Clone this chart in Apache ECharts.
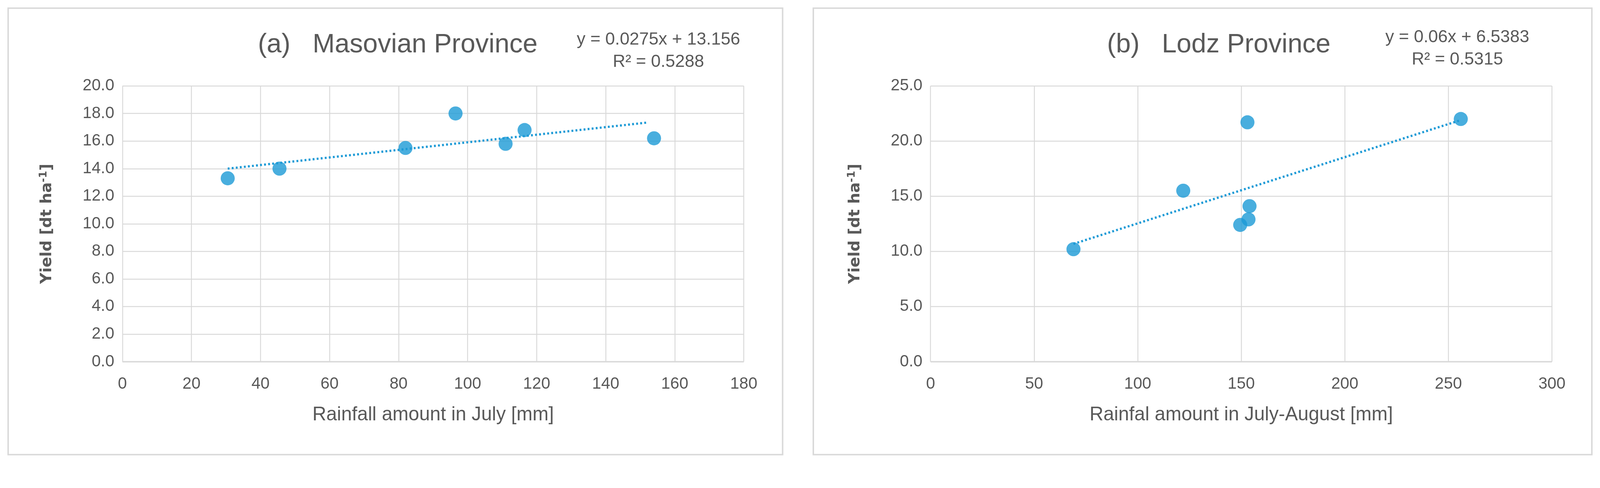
<!DOCTYPE html>
<html><head><meta charset="utf-8">
<script src="https://cdn.jsdelivr.net/npm/echarts@6/dist/echarts.min.js"></script>
<style>html,body{margin:0;padding:0;background:#fff;overflow:hidden}#c{width:100vw;height:100vh}</style>
</head><body><div id="c"></div>
<script>
const masovianPoints = [[30.5,13.3],[45.5,14.0],[82,15.5],[96.5,18.0],[111,15.8],[116.5,16.8],[154,16.2]];
const masovianTrend = [[30.5,14.0],[152,17.34]];
const lodzPoints = [[69,10.2],[122,15.5],[149.5,12.4],[153,21.7],[153.5,12.9],[154,14.1],[256,22.0]];
const lodzTrend = [[69,10.68],[256,21.9]];
const titles = ['(a)   Masovian Province','(b)   Lodz Province'];
const equations = ['y = 0.0275x + 13.156\nR² = 0.5288','y = 0.06x + 6.5383\nR² = 0.5315'];
const xNames = ['Rainfall amount in July [mm]','Rainfal amount in July-August [mm]'];

const chart = echarts.init(document.getElementById('c'));
const s = Math.min(chart.getWidth()/4326, chart.getHeight()/1248);
const p = v => v*s;
const txt = '#595959', font = "'Liberation Sans Narrow','Liberation Sans',sans-serif";
const dot = '#1c9ad6';
const grids = [{left:p(331),top:p(232),width:p(1680),height:p(745)},{left:p(2516),top:p(232),width:p(1680),height:p(745)}];
function xAxis(i,max,interval){return {gridIndex:i,type:'value',min:0,max:max,interval:interval,
  name:xNames[i],nameLocation:'middle',nameGap:p(118),nameTextStyle:{color:txt,fontSize:p(52),fontFamily:font},
  axisLine:{show:false},axisTick:{show:false},axisLabel:{color:txt,fontSize:p(44),fontFamily:font,margin:p(38)},
  splitLine:{lineStyle:{color:'#d9d9d9',width:p(2.5)}}};}
function yAxis(i,max,interval){return {gridIndex:i,type:'value',min:0,max:max,interval:interval,
  name:'{b|Yield [dt ha}{s|-1}{b|]}',nameLocation:'middle',nameGap:p(180),nameRotate:90,
  nameTextStyle:{rich:{b:{color:txt,fontSize:p(42),fontWeight:'bold',fontFamily:'DejaVu Sans'},s:{color:txt,fontSize:p(28),fontWeight:'bold',fontFamily:'DejaVu Sans',verticalAlign:'top',padding:[0,0,p(18),0]}}},
  axisLine:{show:false},axisTick:{show:false},
  axisLabel:{color:txt,fontSize:p(44),fontFamily:font,margin:p(22),formatter:v=>v.toFixed(1)},
  splitLine:{lineStyle:{color:'#d9d9d9',width:p(2.5)}}};}
chart.setOption({
  backgroundColor:'#fff',animation:false,
  graphic:[
    {type:'rect',shape:{x:p(22),y:p(22),width:p(2094),height:p(1206)},style:{fill:'none',stroke:'#d9d9d9',lineWidth:p(4)}},
    {type:'rect',shape:{x:p(2199),y:p(22),width:p(2105),height:p(1206)},style:{fill:'none',stroke:'#d9d9d9',lineWidth:p(4)}},
    {type:'line',shape:{x1:p(331),y1:p(977),x2:p(2011),y2:p(977)},style:{stroke:'#d0d0d0',lineWidth:p(3.5)}},
    {type:'line',shape:{x1:p(2516),y1:p(977),x2:p(4196),y2:p(977)},style:{stroke:'#d0d0d0',lineWidth:p(3.5)}}
  ],
  title:[
    {text:titles[0],left:p(1070),top:p(80),textAlign:'center',textStyle:{color:txt,fontSize:p(72),fontWeight:'normal',fontFamily:font}},
    {text:titles[1],left:p(3290),top:p(80),textAlign:'center',textStyle:{color:txt,fontSize:p(72),fontWeight:'normal',fontFamily:font}},
    {text:equations[0],left:p(1775),top:p(72),textAlign:'center',textStyle:{color:txt,fontSize:p(47),fontWeight:'normal',fontFamily:font,lineHeight:p(60),align:'center'}},
    {text:equations[1],left:p(3935),top:p(66),textAlign:'center',textStyle:{color:txt,fontSize:p(47),fontWeight:'normal',fontFamily:font,lineHeight:p(60),align:'center'}}
  ],
  grid:grids,
  xAxis:[xAxis(0,180,20),xAxis(1,300,50)],
  yAxis:[yAxis(0,20,2),yAxis(1,25,5)],
  series:[
    {type:'line',xAxisIndex:0,yAxisIndex:0,data:masovianTrend,showSymbol:false,lineStyle:{color:dot,width:p(6),type:[p(5),p(6)]}},
    {type:'scatter',xAxisIndex:0,yAxisIndex:0,data:masovianPoints,symbolSize:p(38),itemStyle:{color:dot}},
    {type:'line',xAxisIndex:1,yAxisIndex:1,data:lodzTrend,showSymbol:false,lineStyle:{color:dot,width:p(6),type:[p(5),p(6)]}},
    {type:'scatter',xAxisIndex:1,yAxisIndex:1,data:lodzPoints,symbolSize:p(38),itemStyle:{color:dot}}
  ]
});
</script></body></html>
